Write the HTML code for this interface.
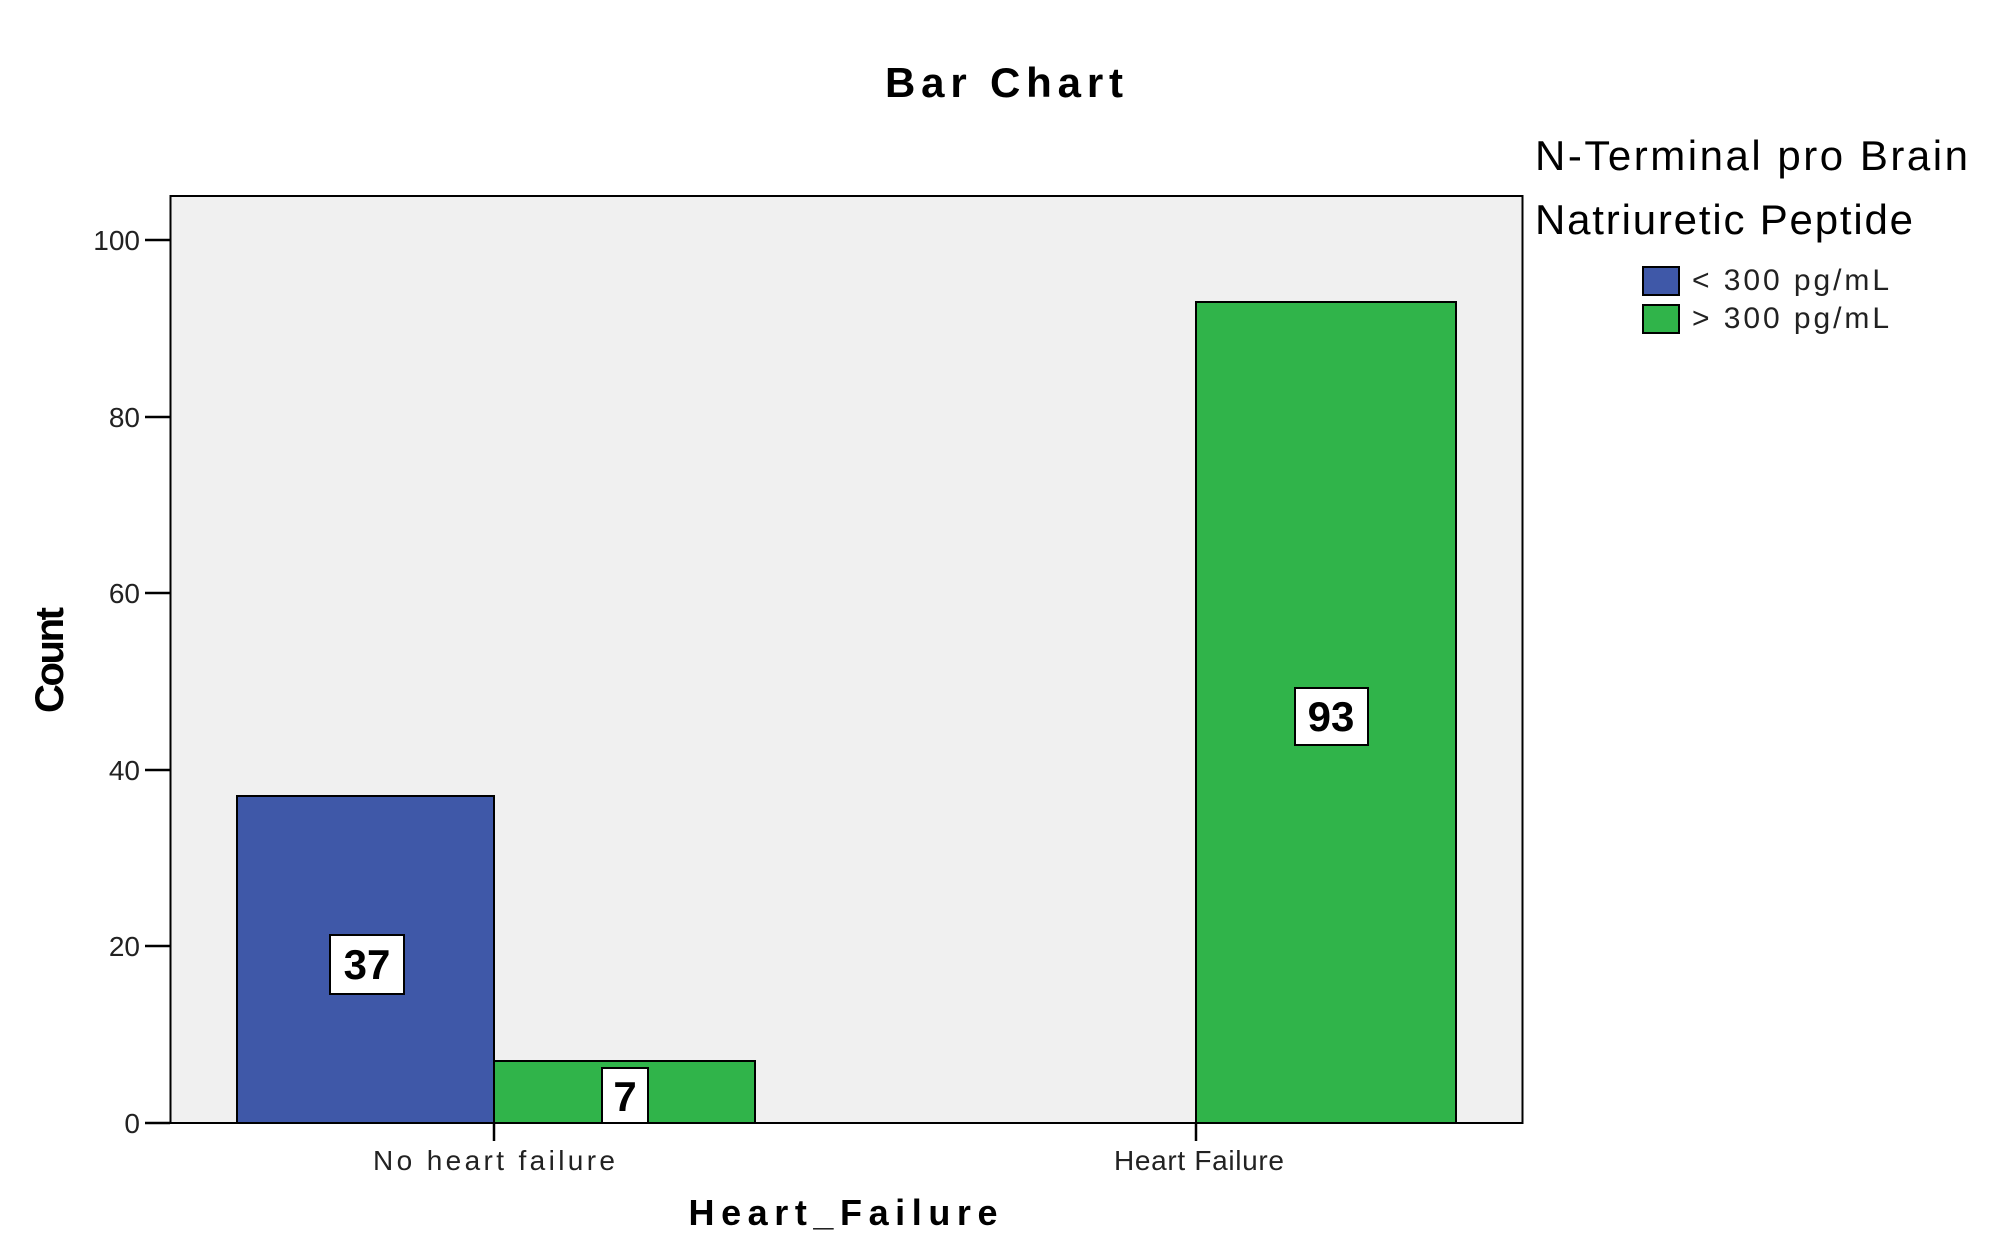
<!DOCTYPE html>
<html><head><meta charset="utf-8"><style>html,body{margin:0;padding:0;background:#fff}svg{display:block}</style></head>
<body>
<svg width="2000" height="1240" xmlns="http://www.w3.org/2000/svg" font-family="Liberation Sans, sans-serif">
<rect width="2000" height="1240" fill="#fff"/>
<text x="1004" y="97" font-size="42" font-weight="bold" text-anchor="middle" textLength="238">Bar Chart</text>
<rect x="170.5" y="196" width="1352" height="927" fill="#f0f0f0" stroke="#000" stroke-width="2"/>
<g stroke="#000" stroke-width="2.5">
<line x1="145" y1="1123" x2="170" y2="1123"/>
<line x1="145" y1="946" x2="170" y2="946"/>
<line x1="145" y1="770" x2="170" y2="770"/>
<line x1="145" y1="593" x2="170" y2="593"/>
<line x1="145" y1="417" x2="170" y2="417"/>
<line x1="145" y1="240" x2="170" y2="240"/>
<line x1="494" y1="1123" x2="494" y2="1141"/><line x1="1196" y1="1123" x2="1196" y2="1141"/>
</g>
<g font-size="28" text-anchor="end" fill="#222">
<text x="140" y="1133">0</text><text x="140" y="956">20</text><text x="140" y="780">40</text>
<text x="140" y="603">60</text><text x="140" y="427">80</text><text x="140" y="250">100</text>
</g>
<rect x="237" y="796" width="257" height="327" fill="#3f58a8" stroke="#000" stroke-width="2"/>
<rect x="494" y="1061" width="261" height="62" fill="#30b44a" stroke="#000" stroke-width="2"/>
<rect x="1196" y="302" width="260" height="821" fill="#30b44a" stroke="#000" stroke-width="2"/>
<rect x="330" y="935" width="74" height="59" fill="#fff" stroke="#000" stroke-width="2"/>
<text x="367" y="979" font-size="42" font-weight="bold" text-anchor="middle">37</text>
<rect x="602" y="1068" width="46" height="55" fill="#fff" stroke="#000" stroke-width="2"/>
<text x="625" y="1111" font-size="42" font-weight="bold" text-anchor="middle">7</text>
<rect x="1295" y="688" width="73" height="57" fill="#fff" stroke="#000" stroke-width="2"/>
<text x="1331" y="731" font-size="42" font-weight="bold" text-anchor="middle">93</text>
<text x="494" y="1170" font-size="28" text-anchor="middle" fill="#222" textLength="242">No heart failure</text>
<text x="1199" y="1170" font-size="28" text-anchor="middle" fill="#222" textLength="170">Heart Failure</text>
<text x="843" y="1225" font-size="36" font-weight="bold" text-anchor="middle" textLength="309">Heart_Failure</text>
<text transform="translate(63,660) rotate(-90)" font-size="40" font-weight="bold" text-anchor="middle" textLength="106">Count</text>
<text x="1535" y="170" font-size="42" textLength="433">N-Terminal pro Brain</text>
<text x="1535" y="234" font-size="42" textLength="378">Natriuretic Peptide</text>
<rect x="1643" y="267" width="36" height="28" fill="#3f58a8" stroke="#000" stroke-width="2"/>
<rect x="1643" y="305" width="36" height="28" fill="#30b44a" stroke="#000" stroke-width="2"/>
<text x="1692" y="290" font-size="30" fill="#222" textLength="197">&lt; 300 pg/mL</text>
<text x="1692" y="328" font-size="30" fill="#222" textLength="197">&gt; 300 pg/mL</text>
</svg>
</body></html>
